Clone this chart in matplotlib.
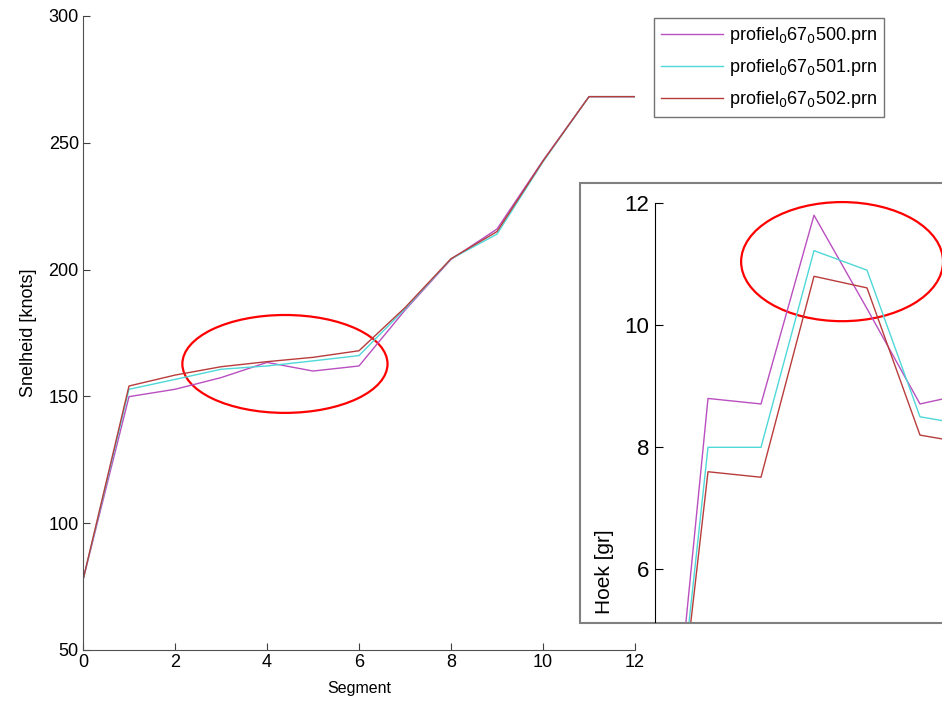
import matplotlib
matplotlib.use("Agg")
import matplotlib.pyplot as plt
from matplotlib.patches import Ellipse, Rectangle

plt.rcParams['font.family'] = ['Liberation Sans', 'DejaVu Sans']

# main chart: speed per segment
segments = [0, 1, 2, 3, 4, 5, 6, 7, 8, 9, 10, 11, 12]
speed_500 = [77.6, 149.9, 152.8, 157.4, 163.4, 160.0, 162.0, 184.0, 204.0, 216.0, 243.0, 268.2, 268.2]
speed_501 = [77.6, 152.8, 156.7, 160.7, 162.0, 164.0, 166.1, 184.5, 204.2, 214.0, 242.5, 268.2, 268.2]
speed_502 = [77.6, 154.1, 158.4, 161.7, 163.7, 165.4, 168.0, 185.0, 204.3, 215.0, 242.8, 268.2, 268.2]

# inset: angle per segment (only first part visible)
inset_segments = [0, 1, 2, 3, 4, 5, 6]
angle_500 = [0.0, 8.80, 8.71, 11.80, 10.27, 8.71, 8.90]
angle_501 = [0.0, 8.00, 8.00, 11.22, 10.90, 8.50, 8.35]
angle_502 = [0.0, 7.60, 7.51, 10.80, 10.61, 8.20, 8.05]

labels = ['profiel$_0$67$_0$500.prn', 'profiel$_0$67$_0$501.prn', 'profiel$_0$67$_0$502.prn']
colors = ['#b94fc0', '#4fd8d8', '#b83c3c']

W, H = 942, 701
fig = plt.figure(figsize=(W / 100, H / 100), dpi=100)

def box(x0, y0, x1, y1):
    # pixel box (top-left origin) -> figure fraction rect
    return [x0 / W, 1 - y1 / H, (x1 - x0) / W, (y1 - y0) / H]

ax = fig.add_axes(box(83, 16, 635, 650))
for ys, c, lab in zip([speed_500, speed_501, speed_502], colors, labels):
    ax.plot(segments, ys, color=c, lw=1.0, label=lab)
ax.set_xlim(0, 12)
ax.set_ylim(50, 300)
ax.set_xticks(range(0, 13, 2))
ax.set_yticks(range(50, 301, 50))
ax.tick_params(direction='in', length=5, labelsize=13, color='#404040', pad=3)
for s in ['top', 'right']:
    ax.spines[s].set_visible(False)
for s in ['left', 'bottom']:
    ax.spines[s].set_color('#505050')
ax.set_xlabel('Segment', fontsize=11.5, labelpad=7)
ax.set_ylabel('Snelheid [knots]', fontsize=13, labelpad=8)
leg = ax.legend(loc='upper left', bbox_to_anchor=((654 - 83) / 552, 1.0 - 2 / 634),
                fontsize=13, frameon=True, fancybox=False, handlelength=3.4,
                borderpad=0.4, labelspacing=0.6, handletextpad=0.35,
                borderaxespad=0)
leg.get_frame().set_edgecolor('#505050')
leg.get_frame().set_linewidth(1.0)

ax.add_patch(Ellipse((4.39, 162.8), 4.46, 38.6, fill=False, edgecolor='red', lw=1.6))

# inset picture frame
fig.patches.append(Rectangle((580 / W, 1 - 623 / H), (W - 580 + 5) / W, 440 / H,
                             transform=fig.transFigure, fill=True, facecolor='white',
                             edgecolor='#808080', lw=1.5, zorder=3))

ins = fig.add_axes(box(655, 203, 942, 622), zorder=4)
for ys, c in zip([angle_500, angle_501, angle_502], colors):
    ins.plot(inset_segments, ys, color=c, lw=1.0)
ins.set_xlim(0, (942 - 655) / 53)
ins.set_ylim(5.14, 12.0)
ins.set_yticks([6, 8, 10, 12])
ins.set_xticks([])
ins.tick_params(direction='in', length=6, labelsize=16, pad=4)
for s in ['top', 'right', 'bottom']:
    ins.spines[s].set_visible(False)
ins.patch.set_alpha(0)
ins.add_patch(Ellipse((3.53, 11.04), 3.81, 1.95, fill=False, edgecolor='red', lw=1.6,
                      clip_on=False))
fig.text(605 / W, 1 - 614 / H, 'Hoek [gr]', rotation=90, ha='center', va='bottom',
         fontsize=15, zorder=5)

fig.savefig('out.png', dpi=100)
